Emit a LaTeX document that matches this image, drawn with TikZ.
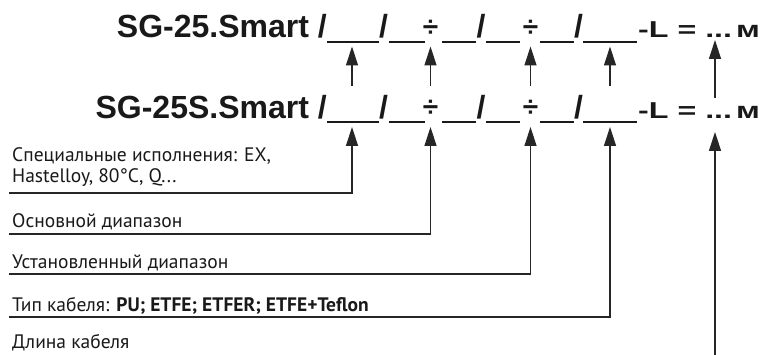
\documentclass[tikz,border=0pt]{standalone}
\usepackage{fontspec}
\usepackage{graphicx}
\setmainfont{Liberation Sans}
\newfontfamily\lblfont{PT Sans}
\usetikzlibrary{arrows.meta}
\tikzset{
  big/.style={inner sep=0pt, font=\fontsize{32}{36}\selectfont\bfseries, text=black!90},
  smallf/.style={inner sep=0pt, font=\fontsize{23}{26}\selectfont\bfseries, text=black!90},
  divf/.style={inner sep=0pt, font=\fontsize{28}{30}\selectfont\bfseries, text=black!90},
  lbl/.style={inner sep=0pt, font=\lblfont\fontsize{19.5}{21.5}\selectfont, text=black!90, align=left},
  uline/.style={line width=2pt, black!90},
  arr/.style={line width=1.3pt, black!85, -{Triangle[length=19pt,width=12pt]}},
  conn/.style={line width=1.4pt, black!85, -{Triangle[length=19pt,width=12pt]}},
}
\begin{document}
\begin{tikzpicture}[x=1pt,y=-1pt]
\useasboundingbox[fill=white] (0,0) rectangle (762,355);

% ---------- format lines ----------
\node[big, anchor=base east] (head1) at (327,37.5) {SG-25.Smart /};
\node[big, anchor=base east] (head2) at (327,118.3) {SG-25S.Smart /};
\foreach \row/\by/\uy in {1/37.5/42, 2/118.3/122}{
  \foreach \a/\b in {327/379, 389/425, 442/476, 486/520, 540/574, 583/637}
    \draw[uline] (\a,\uy) -- (\b,\uy);
  \node[big, anchor=base] (sa\row) at (383.5,\by) {/};
  \node[big, anchor=base] (sb\row) at (481,\by) {/};
  \node[big, anchor=base] (sc\row) at (578.5,\by) {/};
  \node[divf, anchor=center] (da\row) at (430.5,\by-9.5) {÷};
  \node[divf, anchor=center] (db\row) at (530.5,\by-9.5) {÷};
  \node[smallf, anchor=base west] (tail\row) at (638,\by) {\scalebox{1.4}[1]{-L = ...\hspace{0.12em}м}};
}

% ---------- arrows between the two lines ----------
\foreach \i/\x in {1/352,2/430.5,3/530.5,4/610}{
  \coordinate (up\i) at (\x,86);
  \coordinate (ut\i) at (\x,46.5);
  \draw[arr] (up\i) -- (ut\i);
}
\coordinate (up5) at (715,98);
\coordinate (ut5) at (715,40);
\draw[arr] (up5) -- (ut5);

% ---------- labels ----------
\node[lbl, anchor=base west] (l1) at (12,183) {Специальные исполнения: EX,\\Hastelloy, 80°C, Q...};
\node[lbl, anchor=base west] (l2) at (12,227.5) {Основной диапазон};
\node[lbl, anchor=base west] (l3) at (12,268) {Установленный диапазон};
\node[lbl, anchor=base west] (l4) at (12,311.5) {Тип кабеля: \textbf{PU; ETFE; ETFER; ETFE+Teflon}};
\node[lbl, anchor=base west] (l5) at (12,348) {Длина кабеля};

% ---------- connectors from labels ----------
\coordinate (s1) at (9,193);   \coordinate (t1) at (352,127);
\coordinate (s2) at (9,234);   \coordinate (t2) at (430.5,127);
\coordinate (s3) at (9,274);   \coordinate (t3) at (530.5,127);
\coordinate (s4) at (9,317);   \coordinate (t4) at (610,127);
\coordinate (s5) at (715,356); \coordinate (t5) at (715,132);
\draw[conn] (s1) -| (t1);
\draw[conn] (s2) -| (t2);
\draw[conn] (s3) -| (t3);
\draw[conn] (s4) -| (t4);
\draw[conn] (s5) -- (t5);
\end{tikzpicture}
\end{document}
